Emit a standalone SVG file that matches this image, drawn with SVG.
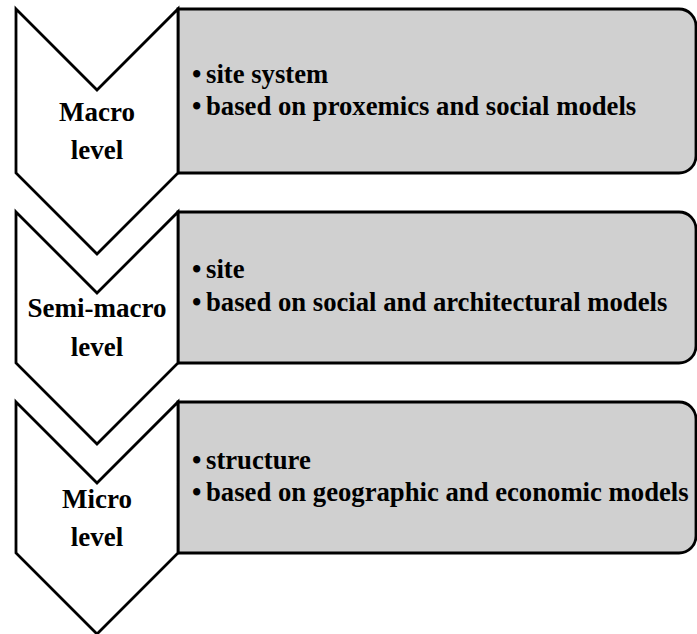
<svg xmlns="http://www.w3.org/2000/svg" width="697" height="634" viewBox="0 0 697 634">
<style>
.chev{fill:#ffffff;stroke:#000000;stroke-width:2.8;stroke-linejoin:miter}
.box{fill:#d0d0d0;stroke:#000000;stroke-width:2.8}
.lbl{font-family:"Liberation Serif","Times New Roman",serif;font-weight:bold;font-size:27px;fill:#000000;text-anchor:middle}
.txt{font-family:"Liberation Serif","Times New Roman",serif;font-weight:bold;font-size:26.7px;fill:#000000}
</style>
<rect width="697" height="634" fill="#ffffff"/>
<g id="box-macro">
<path class="box" d="M178,9 H679 A17,17 0 0 1 696,26 V156 A17,17 0 0 1 679,173 H178 Z"/>
<text class="txt" x="192" y="83">•<tspan x="206">site system</tspan></text>
<text class="txt" x="192" y="115">•<tspan x="206">based on proxemics and social models</tspan></text>
</g>
<g id="box-semimacro">
<path class="box" d="M178,212 H679 A17,17 0 0 1 696,229 V346 A17,17 0 0 1 679,363 H178 Z"/>
<text class="txt" x="192" y="278">•<tspan x="206">site</tspan></text>
<text class="txt" x="192" y="311">•<tspan x="206">based on social and architectural models</tspan></text>
</g>
<g id="box-micro">
<path class="box" d="M178,402 H679 A17,17 0 0 1 696,419 V536 A17,17 0 0 1 679,553 H178 Z"/>
<text class="txt" x="192" y="469">•<tspan x="206">structure</tspan></text>
<text class="txt" x="192" y="501">•<tspan x="206">based on geographic and economic models</tspan></text>
</g>
<g id="chevron-macro">
<polygon class="chev" points="16,9 97,90 178,9 178,173 97,254 16,173"/>
<text class="lbl" x="97" y="121">Macro</text>
<text class="lbl" x="97" y="159">level</text>
</g>
<g id="chevron-semimacro">
<polygon class="chev" points="16,212 97,293 178,212 178,363 97,444 16,363"/>
<text class="lbl" x="97" y="317">Semi-macro</text>
<text class="lbl" x="97" y="356">level</text>
</g>
<g id="chevron-micro">
<polygon class="chev" points="16,402 97,483 178,402 178,553 97,634 16,553"/>
<text class="lbl" x="97" y="508">Micro</text>
<text class="lbl" x="97" y="546">level</text>
</g>
<g id="connectors"></g>
</svg>
